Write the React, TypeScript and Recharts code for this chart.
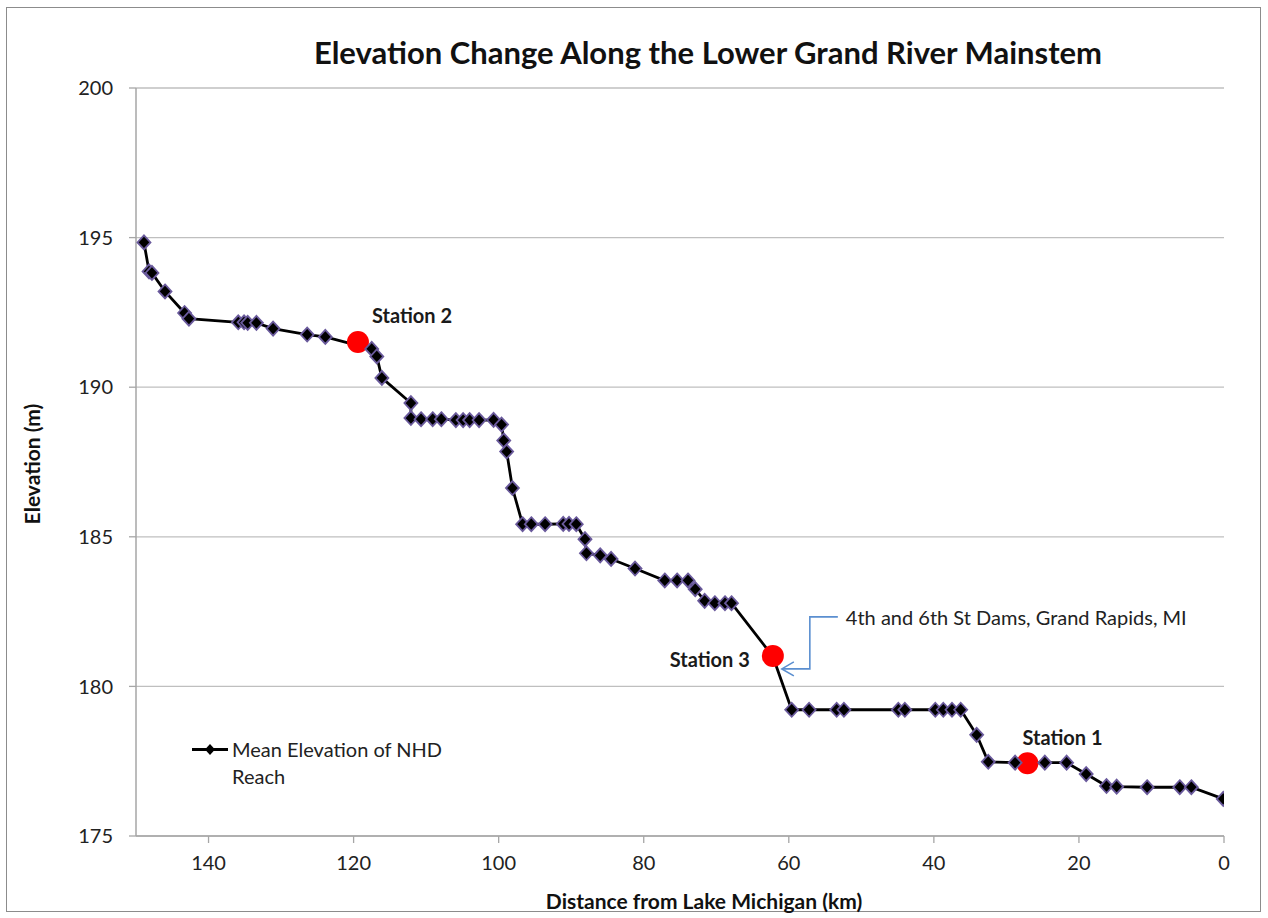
import React from 'react';
import { ComposedChart, Line, Scatter, XAxis, YAxis, CartesianGrid, Legend } from 'recharts';

// distance upstream from Lake Michigan (km) and mean reach elevation (m)
const riverKm = [
  148.9, 148.2, 147.8, 146.0, 143.3, 142.7, 135.9, 135.1, 134.6, 133.4,
  131.1, 126.4, 123.9, 119.2, 117.5, 116.8, 116.1, 112.1, 112.1, 110.7,
  109.1, 107.9, 105.9, 104.9, 104.0, 102.7, 100.7, 99.6, 99.3, 98.9,
  98.1, 96.7, 95.5, 93.6, 91.1, 90.3, 89.3, 88.1, 87.9, 86.0,
  84.5, 81.2, 77.1, 75.4, 73.9, 72.9, 71.6, 70.2, 68.8, 67.9,
  62.2, 59.6, 57.2, 53.4, 52.4, 44.9, 44.0, 39.8, 38.7, 37.5,
  36.3, 34.1, 32.5, 28.8, 27.1, 24.7, 21.7, 19.0, 16.2, 14.8,
  10.6, 6.1, 4.5, 0.1,
];
const elevationM = [
  194.84, 193.87, 193.82, 193.2, 192.48, 192.29, 192.17, 192.17, 192.15, 192.15,
  191.96, 191.76, 191.68, 191.38, 191.28, 191.03, 190.31, 189.47, 188.97, 188.93,
  188.93, 188.93, 188.9, 188.9, 188.9, 188.9, 188.91, 188.75, 188.22, 187.85,
  186.63, 185.42, 185.42, 185.42, 185.43, 185.43, 185.42, 184.92, 184.45, 184.38,
  184.26, 183.94, 183.54, 183.54, 183.54, 183.25, 182.86, 182.78, 182.78, 182.78,
  181.0, 179.22, 179.22, 179.22, 179.22, 179.22, 179.22, 179.22, 179.22, 179.22,
  179.22, 178.38, 177.48, 177.45, 177.43, 177.45, 177.45, 177.07, 176.67, 176.65,
  176.63, 176.63, 176.63, 176.24,
];

const stationNames = ['Station 2', 'Station 3', 'Station 1'];
const stationKm = [119.4, 62.2, 27.1];
const stationElev = [191.51, 181.02, 177.43];

const xTicks = [0, 20, 40, 60, 80, 100, 120, 140];
const yTicks = [175, 180, 185, 190, 195, 200];

const damNote = '4th and 6th St Dams, Grand Rapids, MI';
const seriesName = 'Mean Elevation of NHD Reach';

const reachData = riverKm.map((km, i) => ({ km, elevation: elevationM[i] }));
const stationData = stationNames.map((name, i) => ({
  name,
  km: stationKm[i],
  elevation: stationElev[i],
}));

const font = "Lato, 'Open Sans', sans-serif";
const gray = '#a6a6a6';

const labelPlace: Record<string, { dx: number; dy: number; anchor: 'start' | 'end' }> = {
  'Station 2': { dx: 14, dy: -27, anchor: 'start' },
  'Station 3': { dx: -23, dy: 3, anchor: 'end' },
  'Station 1': { dx: -5, dy: -26, anchor: 'start' },
};

// the red station circles hide the reach markers right under them
const underStation = (km: number) => stationKm.some((s) => Math.abs(s - km) < 0.5);

const DiamondDot = (props: any) => {
  const { cx, cy, index, payload } = props;
  if (cx == null || cy == null || underStation(payload.km)) return <g key={index} />;
  return (
    <path
      key={index}
      d={`M${cx},${cy - 7} L${cx + 6.5},${cy} L${cx},${cy + 7} L${cx - 6.5},${cy} Z`}
      fill="#000"
      stroke="#6a5a9c"
      strokeWidth={1.8}
    />
  );
};

const DamArrow = ({ x, y }: { x: number; y: number }) => {
  const tipX = x + 9;
  const tipY = y + 13;
  const elbowX = x + 37;
  const topY = y - 39;
  return (
    <g>
      <path
        d={`M${tipX},${tipY} L${elbowX},${tipY} L${elbowX},${topY} L${x + 65},${topY}`}
        fill="none"
        stroke="#5b8fd0"
        strokeWidth={1.6}
      />
      <path
        d={`M${tipX + 12},${tipY - 7} L${tipX},${tipY} L${tipX + 12},${tipY + 7}`}
        fill="none"
        stroke="#5b8fd0"
        strokeWidth={1.6}
      />
      <text
        x={x + 73}
        y={topY}
        dominantBaseline="central"
        fontFamily={font}
        fontSize={20}
        fill="#222"
      >
        {damNote}
      </text>
    </g>
  );
};

const StationMarker = (props: any) => {
  const { cx, cy, payload } = props;
  const place = labelPlace[payload.name];
  return (
    <g>
      <circle cx={cx} cy={cy} r={11} fill="#ff0000" />
      <text
        x={cx + place.dx}
        y={cy + place.dy}
        textAnchor={place.anchor}
        dominantBaseline="central"
        fontFamily={font}
        fontWeight="bold"
        fontSize={20}
        fill="#1a1a1a"
      >
        {payload.name}
      </text>
      {payload.name === 'Station 3' && <DamArrow x={cx} y={cy} />}
    </g>
  );
};

const LegendBox = () => {
  const words = seriesName.split(' ');
  return (
    <div style={{ display: 'flex', alignItems: 'flex-start', fontFamily: font, fontSize: 20, color: '#222', lineHeight: '27px' }}>
      <svg width={42} height={27}>
        <line x1={2} y1={13.5} x2={38} y2={13.5} stroke="#000" strokeWidth={3} />
        <path d="M20,8 L25,13.5 L20,19 L15,13.5 Z" fill="#000" />
      </svg>
      <span style={{ width: 240, textAlign: 'left' }}>
        {words.slice(0, 4).join(' ')}
        <br />
        {words.slice(4).join(' ')}
      </span>
    </div>
  );
};

export default function App() {
  return (
    <div style={{ position: 'absolute', left: 0, top: 0, width: 1268, height: 918, background: '#fff' }}>
      <div
        style={{
          position: 'absolute',
          left: 6,
          top: 7,
          width: 1255,
          height: 905,
          border: '1.5px solid #8c8c8c',
          boxSizing: 'border-box',
        }}
      />
      <ComposedChart
        width={1268}
        height={918}
        margin={{ top: 88, right: 44, bottom: 2, left: 16 }}
      >
        <CartesianGrid vertical={false} stroke="#bfbfbf" strokeWidth={1.3} />
        <XAxis
          dataKey="km"
          type="number"
          domain={[0, 150]}
          reversed
          ticks={xTicks}
          height={80}
          tickSize={7}
          tickMargin={13}
          axisLine={{ stroke: gray, strokeWidth: 1.5 }}
          tickLine={{ stroke: gray, strokeWidth: 1.3 }}
          tick={{ fill: '#222', fontSize: 20, fontFamily: font }}
          allowDataOverflow
        />
        <YAxis
          type="number"
          domain={[175, 200]}
          ticks={yTicks}
          width={120}
          tickSize={7}
          tickMargin={16}
          axisLine={{ stroke: gray, strokeWidth: 1.5 }}
          tickLine={{ stroke: gray, strokeWidth: 1.3 }}
          tick={{ fill: '#222', fontSize: 20, fontFamily: font }}
          allowDataOverflow
        />
        <Legend
          layout="horizontal"
          verticalAlign="middle"
          align="center"
          wrapperStyle={{ left: 190, top: 736, width: 290 }}
          content={() => <LegendBox />}
        />
        <Line
          data={reachData}
          dataKey="elevation"
          name={seriesName}
          stroke="#000"
          strokeWidth={2.8}
          dot={DiamondDot}
          activeDot={false}
          isAnimationActive={false}
        />
        <Scatter
          data={stationData}
          dataKey="elevation"
          name="Stations"
          shape={StationMarker}
          isAnimationActive={false}
          legendType="none"
        />
      </ComposedChart>
      <div
        style={{
          position: 'absolute',
          left: 208,
          top: 32,
          width: 1000,
          textAlign: 'center',
          fontFamily: font,
          fontWeight: 'bold',
          fontSize: 31,
          lineHeight: '40px',
          color: '#111',
        }}
      >
        Elevation Change Along the Lower Grand River Mainstem
      </div>
      <div
        style={{
          position: 'absolute',
          left: 454,
          top: 887,
          width: 500,
          textAlign: 'center',
          fontFamily: font,
          fontWeight: 'bold',
          fontSize: 21,
          lineHeight: '28px',
          color: '#111',
        }}
      >
        Distance from Lake Michigan (km)
      </div>
      <div
        style={{
          position: 'absolute',
          left: 32 - 100,
          top: 464 - 14,
          width: 200,
          textAlign: 'center',
          transform: 'rotate(-90deg)',
          fontFamily: font,
          fontWeight: 'bold',
          fontSize: 21,
          lineHeight: '28px',
          color: '#111',
        }}
      >
        Elevation (m)
      </div>
    </div>
  );
}
